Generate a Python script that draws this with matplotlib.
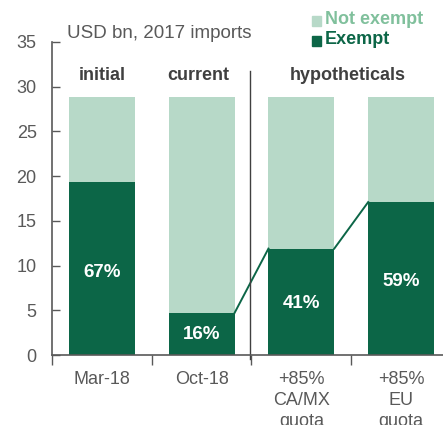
import matplotlib
matplotlib.use("Agg")
from matplotlib import pyplot as plt
from matplotlib.patches import Rectangle

plt.rcParams['font.family'] = ['Liberation Sans', 'DejaVu Sans']

# data (USD bn, 2017 imports)
categories = ['Mar-18', 'Oct-18', '+85%\nCA/MX\nquota', '+85%\nEU\nquota']
total = [28.9, 28.9, 28.9, 28.9]
exempt = [19.3, 4.7, 11.9, 17.1]
pct_labels = ['67%', '16%', '41%', '59%']
groups = ['initial', 'current', 'hypotheticals']

light = '#b7d9c8'
dark = '#0c6647'
gray = '#595959'

fig = plt.figure(figsize=(4.43, 4.25), dpi=100)
ax = fig.add_axes([0.1174, 0.1647, 0.9006, 0.7365])

x = [i + 0.5 for i in range(len(categories))]
w = 0.66
ax.bar(x, total, width=w, color=light)
ax.bar(x, exempt, width=w, color=dark)

# percentage labels in the middle of the dark bars
for xi, e, lab in zip(x, exempt, pct_labels):
    ax.text(xi, e * 0.48, lab, ha='center', va='center', color='white',
            fontsize=13.5, fontweight='bold')

# connectors between the hypothetical bars
for i in (1, 2):
    ax.plot([x[i] + w / 2, x[i + 1] - w / 2], [exempt[i], exempt[i + 1]],
            color=dark, lw=1.4, clip_on=False)

# divider
ax.plot([1.99, 1.99], [-0.5, 31.8], color='#404040', lw=1, clip_on=False)

# group headers
ax.text(0.5, 31.2, groups[0], ha='center', va='center', fontsize=13,
        fontweight='bold', color='#404040')
ax.text(1.47, 31.2, groups[1], ha='center', va='center', fontsize=13,
        fontweight='bold', color='#404040')
ax.text(2.97, 31.2, groups[2], ha='center', va='center', fontsize=13,
        fontweight='bold', color='#404040')

ax.text(0.15, 36.0, 'USD bn, 2017 imports', ha='left', va='center',
        fontsize=13.5, color=gray, clip_on=False)

ax.set_xlim(0, 4)
ax.set_ylim(0, 35)
ax.set_yticks(range(0, 36, 5))
ax.set_xticks([0, 1, 2, 3, 4])
ax.set_xticklabels([])
ax.set_xticks(x, minor=True)
ax.set_xticklabels(categories, minor=True, linespacing=1.3)
ax.tick_params(axis='x', which='major', direction='out', length=7,
               width=1, color=gray)
ax.tick_params(axis='x', which='minor', length=0, pad=11.5, labelsize=13,
               labelcolor=gray)
ax.tick_params(axis='y', direction='in', length=6, width=1, color=gray,
               pad=11, labelsize=13, labelcolor=gray)

for s in ('top', 'right'):
    ax.spines[s].set_visible(False)
for s in ('left', 'bottom'):
    ax.spines[s].set_color(gray)
    ax.spines[s].set_linewidth(1.2)

# legend
fig.patches.append(Rectangle((312 / 443, 1 - 26 / 425), 9 / 443, 10 / 425,
                             transform=fig.transFigure, color=light))
fig.patches.append(Rectangle((312 / 443, 1 - 46 / 425), 9 / 443, 10 / 425,
                             transform=fig.transFigure, color=dark))
fig.text(325 / 443, 1 - 20 / 425, 'Not exempt', ha='left', va='center',
         fontsize=13, fontweight='bold', color='#80c09c')
fig.text(325 / 443, 1 - 40 / 425, 'Exempt', ha='left', va='center',
         fontsize=13, fontweight='bold', color=dark)

plt.savefig('out.png', dpi=100)
